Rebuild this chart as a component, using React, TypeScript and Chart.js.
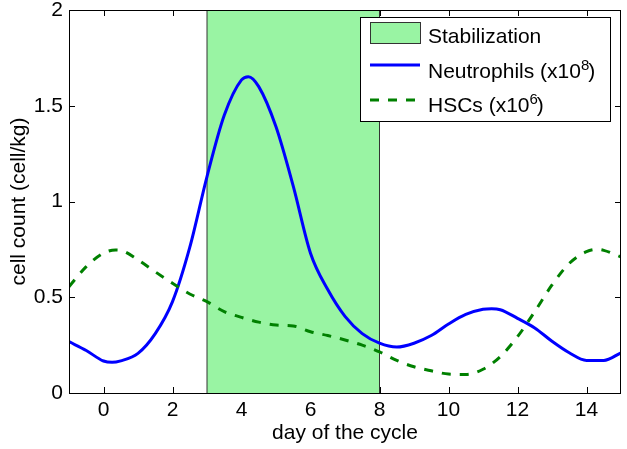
import { useEffect, useRef } from 'react';
import { Chart, registerables } from 'chart.js';

Chart.register(...registerables);

// ---- data ----
const neutDays = [-1, -0.5, 0, 0.25, 0.5, 1, 1.5, 2, 2.5, 3, 3.5, 4, 4.2, 4.5, 5, 5.5, 6, 6.5, 7, 7.5, 8, 8.5, 9, 9.5, 10, 10.5, 11, 11.25, 11.5, 12, 12.5, 13, 13.5, 14, 14.5, 15];
const neutValues = [0.268, 0.222, 0.167, 0.16, 0.168, 0.207, 0.31, 0.477, 0.76, 1.13, 1.45, 1.635, 1.652, 1.6, 1.39, 1.08, 0.73, 0.54, 0.4, 0.31, 0.26, 0.24, 0.26, 0.3, 0.36, 0.41, 0.437, 0.44, 0.435, 0.39, 0.34, 0.27, 0.21, 0.17, 0.17, 0.21];

const hscDays = [-1, -0.5, 0, 0.35, 0.5, 1, 1.5, 2, 2.5, 3, 3.5, 4, 4.5, 5, 5.5, 6, 6.5, 7, 7.5, 8, 8.5, 9, 9.5, 10, 10.5, 11, 11.5, 12, 12.5, 13, 13.5, 14, 14.3, 14.5, 15];
const hscValues = [0.555, 0.66, 0.73, 0.747, 0.745, 0.695, 0.633, 0.573, 0.517, 0.477, 0.425, 0.395, 0.37, 0.355, 0.35, 0.32, 0.3, 0.277, 0.25, 0.215, 0.17, 0.137, 0.116, 0.099, 0.097, 0.124, 0.19, 0.294, 0.425, 0.564, 0.677, 0.738, 0.75, 0.745, 0.71];

const stabilizationDays = [3, 3, 8, 8];
const stabilizationValues = [0, 2, 2, 0];

const xTickValues = [0, 2, 4, 6, 8, 10, 12, 14];
const xTickLabels = ['0', '2', '4', '6', '8', '10', '12', '14'];
const yTickValues = [0, 0.5, 1, 1.5, 2];
const yTickLabels = ['0', '0.5', '1', '1.5', '2'];

const legendMain = ['Stabilization', 'Neutrophils (x10', 'HSCs (x10'];
const legendSup = ['', '8', '6'];
const legendTail = ['', ')', ')'];

const FONT = '"Liberation Sans", Arial, Helvetica, sans-serif';
const GREEN_FILL = '#99f4a3';
const BLUE = '#0000ff';
const DGREEN = '#008000';

const toPoints = (xs: number[], ys: number[]) => xs.map((x, i) => ({ x, y: ys[i] }));

const framePlugin = {
  id: 'frame',
  beforeDatasetsDraw(chart: any) {
    const { ctx, chartArea, scales } = chart;
    const { left, right, top, bottom } = chartArea;
    const L = 6;
    ctx.save();
    ctx.strokeStyle = '#000';
    ctx.lineWidth = 1;
    ctx.beginPath();
    xTickValues.forEach((v) => {
      const px = Math.round(scales.x.getPixelForValue(v)) + 0.5;
      ctx.moveTo(px, bottom);
      ctx.lineTo(px, bottom - L);
      ctx.moveTo(px, top);
      ctx.lineTo(px, top + L);
    });
    yTickValues.forEach((v) => {
      const py = Math.round(scales.y.getPixelForValue(v)) + 0.5;
      ctx.moveTo(left, py);
      ctx.lineTo(left + L, py);
      ctx.moveTo(right, py);
      ctx.lineTo(right - L, py);
    });
    ctx.stroke();
    ctx.restore();
  },
  afterDatasetsDraw(chart: any) {
    const { ctx, chartArea } = chart;
    const { left, right, top, bottom } = chartArea;
    ctx.save();
    ctx.strokeStyle = '#000';
    ctx.lineWidth = 1;
    ctx.strokeRect(left + 0.5, top + 0.5, right - left - 1, bottom - top);
    ctx.restore();
  },
  afterDraw(chart: any) {
    const { ctx } = chart;
    const bx = 360.5, by = 17.5, bw = 250, bh = 104;
    ctx.save();
    ctx.fillStyle = '#fff';
    ctx.fillRect(bx, by, bw, bh);
    ctx.strokeStyle = '#000';
    ctx.lineWidth = 1;
    ctx.strokeRect(bx, by, bw, bh);

    // sample 0: patch
    ctx.fillStyle = GREEN_FILL;
    ctx.fillRect(370.5, 22.5, 50, 21);
    ctx.strokeStyle = '#333';
    ctx.strokeRect(370.5, 22.5, 50, 21);

    // sample 1: solid line
    ctx.strokeStyle = BLUE;
    ctx.lineWidth = 3;
    ctx.beginPath();
    ctx.moveTo(370, 65);
    ctx.lineTo(420, 65);
    ctx.stroke();

    // sample 2: dashed line
    ctx.strokeStyle = DGREEN;
    ctx.setLineDash([9, 9]);
    ctx.beginPath();
    ctx.moveTo(370, 100);
    ctx.lineTo(418, 100);
    ctx.stroke();
    ctx.setLineDash([]);

    const baselines = [43, 77.5, 112];
    ctx.fillStyle = '#000';
    ctx.textBaseline = 'alphabetic';
    ctx.textAlign = 'left';
    legendMain.forEach((t, i) => {
      const tx = 428;
      ctx.font = `21px ${FONT}`;
      ctx.fillText(t, tx, baselines[i]);
      let w = ctx.measureText(t).width;
      if (legendSup[i]) {
        ctx.font = `15px ${FONT}`;
        ctx.fillText(legendSup[i], tx + w, baselines[i] - 8);
        w += ctx.measureText(legendSup[i]).width - 1;
        ctx.font = `21px ${FONT}`;
        ctx.fillText(legendTail[i], tx + w, baselines[i]);
      }
    });
    ctx.restore();
  },
};

export default function App() {
  const ref = useRef<HTMLCanvasElement | null>(null);

  useEffect(() => {
    document.body.style.margin = '0';
    const canvas = ref.current;
    if (!canvas) return;
    Chart.defaults.font.family = FONT;
    Chart.defaults.font.size = 21;
    Chart.defaults.color = '#000';

    const chart = new Chart(canvas, {
      type: 'line',
      data: {
        datasets: [
          {
            label: 'HSCs (x10^6)',
            data: toPoints(hscDays, hscValues),
            borderColor: DGREEN,
            borderWidth: 3,
            borderDash: [9, 9],
            pointRadius: 0,
            cubicInterpolationMode: 'monotone',
            fill: false,
            order: 1,
          },
          {
            label: 'Neutrophils (x10^8)',
            data: toPoints(neutDays, neutValues),
            borderColor: BLUE,
            borderWidth: 3,
            pointRadius: 0,
            cubicInterpolationMode: 'monotone',
            fill: false,
            order: 2,
          },
          {
            label: 'Stabilization',
            data: toPoints(stabilizationDays, stabilizationValues),
            borderColor: '#333',
            borderWidth: 1,
            backgroundColor: GREEN_FILL,
            pointRadius: 0,
            tension: 0,
            fill: 'origin',
            order: 3,
          },
        ],
      },
      options: {
        animation: false,
        responsive: false,
        devicePixelRatio: 1,
        layout: { padding: { top: 10, right: 6, left: 0, bottom: 0 } },
        plugins: {
          legend: { display: false },
          tooltip: { enabled: false },
        },
        scales: {
          x: {
            type: 'linear',
            min: -1,
            max: 15,
            grid: { display: false, drawTicks: false },
            border: { display: false },
            afterBuildTicks: (s: any) => {
              s.ticks = xTickValues.map((v) => ({ value: v }));
            },
            afterFit: (s: any) => {
              s.height = 56;
              s.paddingLeft = 0;
              s.paddingRight = 0;
            },
            ticks: {
              padding: 5,
              maxRotation: 0,
              autoSkip: false,
              callback: (_v: any, i: number) => xTickLabels[i],
            },
            title: {
              display: true,
              text: 'day of the cycle',
              padding: { top: 0, bottom: 3 },
            },
          },
          y: {
            type: 'linear',
            min: 0,
            max: 2,
            grid: { display: false, drawTicks: false },
            border: { display: false },
            afterBuildTicks: (s: any) => {
              s.ticks = yTickValues.map((v) => ({ value: v }));
            },
            afterFit: (s: any) => {
              s.width = 69;
              s.paddingTop = 0;
              s.paddingBottom = 0;
            },
            ticks: {
              padding: 6,
              autoSkip: false,
              callback: (_v: any, i: number) => yTickLabels[i],
            },
            title: {
              display: true,
              text: 'cell count (cell/kg)',
              padding: { top: 7, bottom: 0 },
            },
          },
        },
      },
      plugins: [framePlugin],
    });
    return () => chart.destroy();
  }, []);

  return (
    <div style={{ position: 'absolute', left: 0, top: 0, width: 627, height: 449, background: '#fff' }}>
      <canvas ref={ref} width={627} height={449} style={{ width: 627, height: 449, display: 'block' }} />
    </div>
  );
}
